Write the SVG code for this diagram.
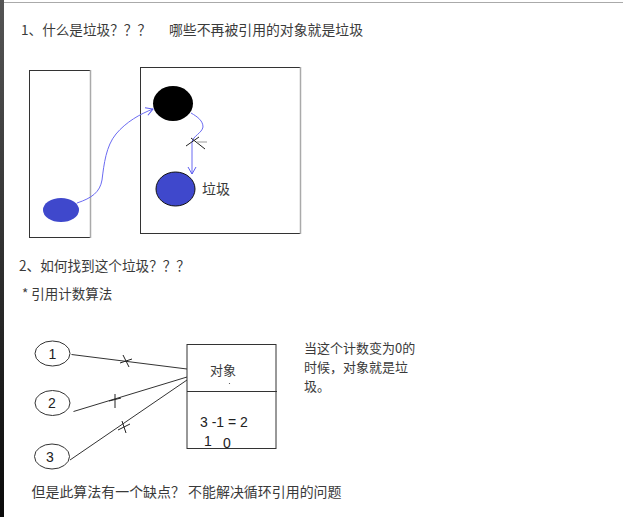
<svg xmlns="http://www.w3.org/2000/svg" width="623" height="517" viewBox="0 0 623 517">
<defs>
<linearGradient id="edge" x1="0" y1="0" x2="0" y2="1">
<stop offset="0" stop-color="#555"/>
<stop offset="1" stop-color="#0a0a0a"/>
</linearGradient>
<marker id="arr" markerWidth="10" markerHeight="10" refX="8" refY="5" orient="auto" markerUnits="userSpaceOnUse">
<path d="M1,1 L8,5 L1,9" fill="none" stroke="#5b5bf0" stroke-width="1"/>
</marker>
<style>
.t{font-family:"Noto Sans CJK SC","Noto Sans",sans-serif;fill:#3a3a3a;}
.n{font-family:"Liberation Sans",Arial,sans-serif;fill:#222;font-size:14px;}
.box{fill:none;stroke:#333;stroke-width:1;}
.ln{fill:none;stroke:#333;stroke-width:1;}
.cur{fill:none;stroke:#6b6bf2;stroke-width:1;}
.x{stroke:#222;stroke-width:1;fill:none;}
</style>
</defs>
<rect width="623" height="517" fill="#fff"/>
<rect x="0" y="0" width="4" height="517" fill="url(#edge)"/>
<line x1="4" y1="2.5" x2="623" y2="2.5" stroke="#aaa" stroke-width="1"/>

<g id="title1">
<text class="t" x="21" y="35" font-size="13.5" textLength="130" lengthAdjust="spacingAndGlyphs">1、什么是垃圾？？？</text>
<text class="t" x="169" y="35" font-size="13.5" textLength="194" lengthAdjust="spacingAndGlyphs">哪些不再被引用的对象就是垃圾</text>
</g>

<g id="stack">
<rect class="box" x="29.5" y="70.5" width="61" height="167"/>
<line x1="90.5" y1="70" x2="90.5" y2="238" stroke="#aaa" stroke-width="1.5"/>
<ellipse cx="61" cy="210" rx="18" ry="12" fill="#3f48cc"/>
</g>

<g id="heap">
<rect class="box" x="140.5" y="67.5" width="160" height="166"/>
<line x1="300.5" y1="67" x2="300.5" y2="234" stroke="#aaa" stroke-width="1.5"/>
</g>

<g id="obj-black">
<ellipse cx="173" cy="103.5" rx="20" ry="17.5" fill="#000"/>
</g>

<g id="obj-garbage">
<ellipse cx="175.5" cy="189" rx="19.5" ry="17" fill="#3f48cc" stroke="#111" stroke-width="1"/>
<text class="t" x="202" y="194" font-size="14">垃圾</text>
</g>

<g id="connectors">
<path class="cur" d="M77,203 C92,198 100,192 102,180 C104,164 106,146 116,134 C126,122 140,114 153,109" marker-end="url(#arr)"/>
<path class="cur" d="M191,113 C198,117 203,121 203,127 C202,133 193,136 192,142 L192,174" marker-end="url(#arr)"/>
<line class="x" x1="186" y1="146" x2="199" y2="137"/>
<line class="x" x1="191" y1="138" x2="205" y2="149"/>
<line x1="197" y1="142" x2="207" y2="142" stroke="#aaa" stroke-width="1.2"/>

<line class="ln" x1="71.5" y1="354.5" x2="187" y2="369"/>
<line class="ln" x1="73.5" y1="411.5" x2="187" y2="377"/>
<line class="ln" x1="70" y1="460" x2="187" y2="380"/>
<line class="x" x1="123" y1="355" x2="129" y2="367"/>
<line class="x" x1="120" y1="363" x2="132" y2="359"/>
<line class="x" x1="115" y1="394" x2="115" y2="408"/>
<line class="x" x1="109" y1="401" x2="121" y2="398"/>
<line class="x" x1="122" y1="421" x2="126" y2="433"/>
<line class="x" x1="118" y1="430" x2="130" y2="424"/>
</g>

<g id="title2">
<text class="t" x="19" y="271" font-size="14" textLength="171" lengthAdjust="spacingAndGlyphs">2、如何找到这个垃圾？？？</text>
<text class="t" x="22" y="299" font-size="13.5">* 引用计数算法</text>
</g>

<g id="ref1">
<ellipse class="ln" cx="52.5" cy="353.5" rx="17.5" ry="12.5"/>
<text class="n" x="52.5" y="358.5" text-anchor="middle">1</text>
</g>
<g id="ref2">
<ellipse class="ln" cx="52.5" cy="403" rx="17.5" ry="12.5"/>
<text class="n" x="52" y="408" text-anchor="middle">2</text>
</g>
<g id="ref3">
<ellipse class="ln" cx="52" cy="456.5" rx="17.5" ry="12.5"/>
<text class="n" x="50" y="461.5" text-anchor="middle">3</text>
</g>

<g id="object">
<rect class="box" x="187" y="344.5" width="89" height="104"/>
<line class="ln" x1="187" y1="391.5" x2="277" y2="391.5"/>
<text class="t" x="210" y="375" font-size="13">对象</text>
<circle cx="229.5" cy="383.5" r="0.6" fill="#444"/>
<text class="n" x="200" y="426.5">3 -1 = 2</text>
<text class="n" x="204" y="446">1</text>
<text class="n" x="223" y="447.5">0</text>
</g>

<g id="note">
<text class="t" x="304" y="353" font-size="13">当这个计数变为0的</text>
<text class="t" x="304" y="372" font-size="13">时候，对象就是垃</text>
<text class="t" x="304" y="391" font-size="13">圾。</text>
</g>

<g id="footer">
<text class="t" x="31.5" y="497" font-size="13.8" textLength="310" lengthAdjust="spacingAndGlyphs">但是此算法有一个缺点？ 不能解决循环引用的问题</text>
</g>
</svg>
